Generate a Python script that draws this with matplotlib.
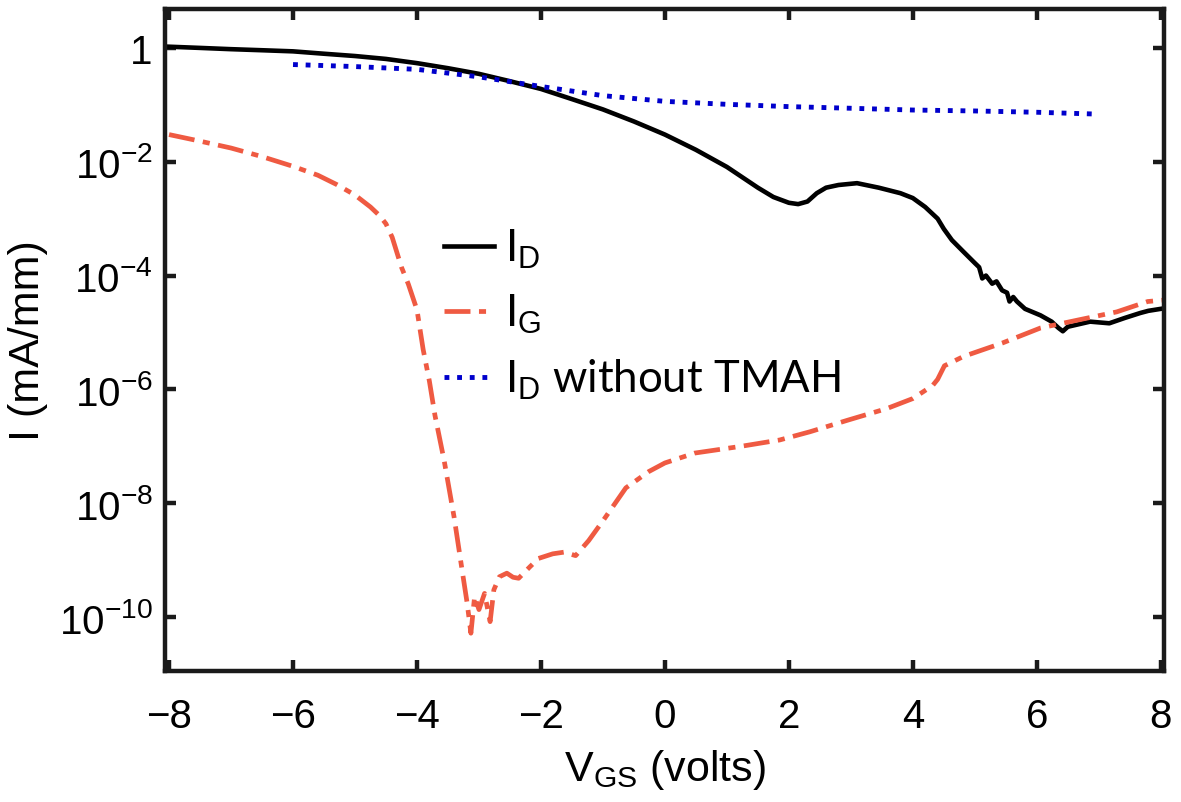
import math
import matplotlib
matplotlib.use("Agg")
import matplotlib.pyplot as plt
from matplotlib.ticker import FixedLocator, FuncFormatter

plt.rcParams['font.family'] = 'Liberation Sans'
plt.rcParams['mathtext.fontset'] = 'custom'
plt.rcParams['mathtext.rm'] = 'Liberation Sans'
plt.rcParams['mathtext.it'] = 'Liberation Sans:italic'
plt.rcParams['mathtext.bf'] = 'Liberation Sans:bold'

# I_D (with TMAH)
id_v = [-8.0, -7.5, -7.0, -6.5, -6.0, -5.5, -5.0, -4.5, -4.0, -3.5, -3.0,
        -2.5, -2.0, -1.5, -1.0, -0.5, 0.0, 0.5, 1.0, 1.5, 1.75, 2.0, 2.15,
        2.3, 2.45, 2.6, 2.8, 3.1, 3.45, 3.8, 4.0, 4.2, 4.4, 4.5, 4.63, 4.82,
        5.0, 5.07, 5.12, 5.18, 5.28, 5.35, 5.44, 5.52, 5.56, 5.62, 5.68,
        5.81, 6.06, 6.24, 6.35, 6.42, 6.5, 6.86, 7.17, 7.42, 7.67, 7.8, 8.0]
id_i = [1.05, 1.0, 0.95, 0.91, 0.87, 0.79, 0.72, 0.64, 0.54, 0.44, 0.35,
        0.26, 0.19, 0.126, 0.083, 0.051, 0.030, 0.0162, 8.1e-3, 3.5e-3,
        2.4e-3, 1.9e-3, 1.8e-3, 2.0e-3, 2.8e-3, 3.5e-3, 3.9e-3, 4.2e-3,
        3.5e-3, 2.8e-3, 2.3e-3, 1.6e-3, 1.0e-3, 6.6e-4, 4.2e-4, 2.6e-4,
        1.66e-4, 1.4e-4, 8.9e-5, 1.0e-4, 7.2e-5, 7.9e-5, 5.5e-5, 5.0e-5,
        3.5e-5, 4.2e-5, 3.5e-5, 2.6e-5, 2.0e-5, 1.55e-5, 1.2e-5, 1.05e-5,
        1.26e-5, 1.55e-5, 1.45e-5, 1.8e-5, 2.2e-5, 2.4e-5, 2.6e-5]

# I_G
ig_v = [-8.0, -7.5, -7.0, -6.5, -6.0, -5.6, -5.3, -5.0, -4.75, -4.6, -4.5,
        -4.4, -4.25, -4.14, -4.0, -3.9, -3.8, -3.71, -3.56, -3.4, -3.28,
        -3.19, -3.13, -3.07, -3.0, -2.91, -2.82, -2.76, -2.67, -2.55, -2.45,
        -2.36, -2.18, -2.04, -1.81, -1.63, -1.44, -1.23, -1.0, -0.63, -0.26,
        0.0, 0.48, 1.23, 1.85, 2.34, 2.96, 3.58, 4.0, 4.32, 4.4, 4.51, 4.82,
        5.44, 6.06, 6.67, 7.29, 7.79, 8.04]
ig_i = [3.0e-2, 2.3e-2, 1.74e-2, 1.23e-2, 8.3e-3, 5.8e-3, 4.0e-3, 2.6e-3,
        1.6e-3, 1.12e-3, 8.1e-4, 4.7e-4, 1.4e-4, 7.1e-5, 2.5e-5, 5.0e-6,
        1.4e-6, 3.5e-7, 5.5e-8, 5.6e-9, 7.6e-10, 1.74e-10, 5.2e-11, 2.3e-10,
        1.35e-10, 2.6e-10, 8.3e-11, 3.0e-10, 5.1e-10, 5.9e-10, 5.0e-10,
        4.8e-10, 7.6e-10, 1.07e-9, 1.29e-9, 1.38e-9, 1.2e-9, 2.2e-9, 4.9e-9,
        1.86e-8, 3.6e-8, 5.1e-8, 7.6e-8, 1.0e-7, 1.29e-7, 1.8e-7, 2.9e-7,
        4.6e-7, 6.9e-7, 1.17e-6, 1.5e-6, 2.6e-6, 3.8e-6, 6.5e-6, 1.2e-5,
        1.66e-5, 2.3e-5, 3.5e-5, 3.7e-5]

# I_D without TMAH
idn_v = [-6.0, -5.0, -4.0, -3.0, -2.0, -1.0, 0.0, 1.0, 2.0, 3.0, 4.0, 5.0,
         6.0, 6.92]
idn_i = [0.51, 0.47, 0.42, 0.31, 0.21, 0.145, 0.115, 0.102, 0.093, 0.087,
         0.081, 0.078, 0.074, 0.069]

xticks = [-8, -6, -4, -2, 0, 2, 4, 6, 8]
yticks = [1, 1e-2, 1e-4, 1e-6, 1e-8, 1e-10]

red = '#ef5a42'
blue = '#0000cc'
dark = '#1a1a1a'

fig = plt.figure(figsize=(11.81, 8.03), dpi=100)
ax = fig.add_axes([0.140, 0.163, 0.846, 0.825])

ax.plot(id_v, id_i, color='black', lw=3.3, label=r'I$_\mathrm{D}$')
ax.plot(ig_v, ig_i, color=red, lw=3.4, linestyle=(0, (5.5, 1.8, 1.5, 1.8)),
        label=r'I$_\mathrm{G}$')
ax.plot(idn_v, idn_i, color=blue, lw=3.5, linestyle=(0, (1.0, 1.6)),
        label=r'I$_\mathrm{D}$ without TMAH')

ax.set_yscale('log')
ax.set_xlim(-8.06, 8.06)
ax.set_ylim(10**-10.95, 10**0.69)

ax.xaxis.set_major_locator(FixedLocator(xticks))
ax.yaxis.set_major_locator(FixedLocator(yticks))
ax.yaxis.set_minor_locator(FixedLocator([]))
ax.xaxis.set_major_formatter(FuncFormatter(lambda v, p: '%d' % v if v >= 0 else '\u2212%d' % -v))
ax.yaxis.set_major_formatter(FuncFormatter(
    lambda v, p: '1' if abs(v - 1) < 1e-9 else r'$10^{%d}$' % round(math.log10(v))))

for s in ax.spines.values():
    s.set_linewidth(3.2)
    s.set_color(dark)
ax.tick_params(which='major', direction='in', length=8, width=3.2, color=dark,
               top=True, right=True, labelsize=29)
ax.tick_params(axis='x', pad=19)
ax.tick_params(axis='y', pad=9)

ax.set_xlabel(r'V$_\mathrm{GS}$ (volts)', fontsize=31)
ax.set_ylabel('I (mA/mm)', fontsize=31)
ax.xaxis.set_label_coords(0.5, -0.115)
ax.yaxis.set_label_coords(-0.117, 0.5)

ax.legend(loc='upper left', bbox_to_anchor=(444 / 1181, 1 - 228 / 803),
          bbox_transform=fig.transFigure, frameon=False,
          borderpad=0, borderaxespad=0, handlelength=1.15, handletextpad=0.25,
          labelspacing=0.5, prop={'family': 'Lato', 'size': 31.5})

fig.savefig('out.png', dpi=100)
